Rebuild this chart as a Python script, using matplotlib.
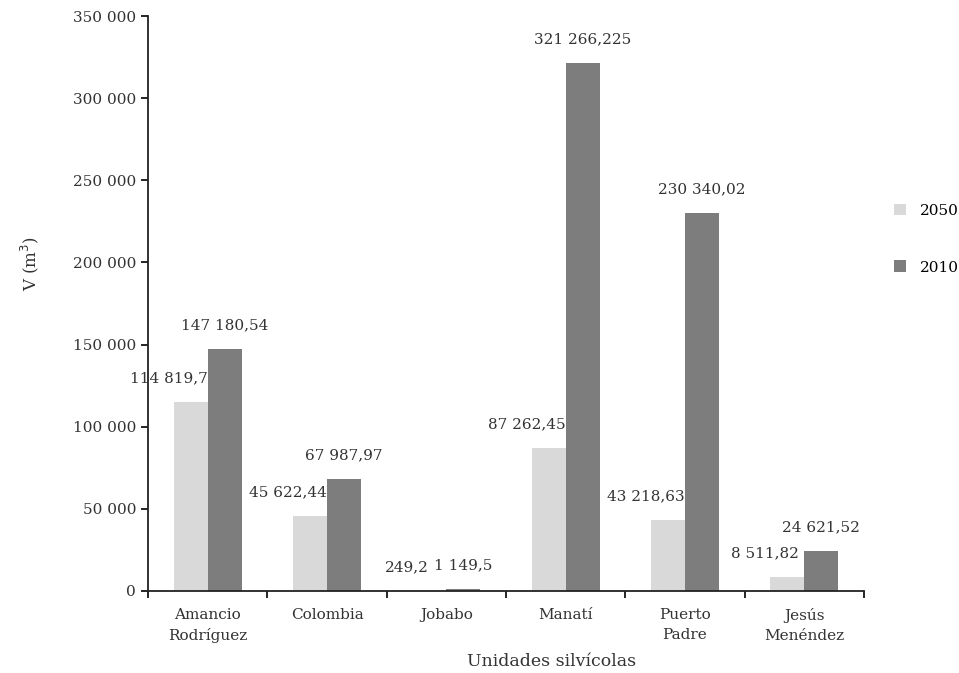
import matplotlib
matplotlib.use("Agg")
import matplotlib.pyplot as plt
import numpy as np
from matplotlib.ticker import FuncFormatter, FixedLocator

categories = ["Amancio\nRodríguez", "Colombia", "Jobabo", "Manatí", "Puerto\nPadre", "Jesús\nMenéndez"]
v2050 = [114819.7, 45622.44, 249.2, 87262.45, 43218.63, 8511.82]
v2010 = [147180.54, 67987.97, 1149.5, 321266.225, 230340.02, 24621.52]
lab2050 = ["114 819,7", "45 622,44", "249,2", "87 262,45", "43 218,63", "8 511,82"]
lab2010 = ["147 180,54", "67 987,97", "1 149,5", "321 266,225", "230 340,02", "24 621,52"]
series_names = ["2050", "2010"]

plt.rcParams['font.family'] = ['DejaVu Serif']
fig = plt.figure(figsize=(9.59, 6.73), dpi=100)
ax = fig.add_axes([148/959, 1-591/673, (864-148)/959, (591-16)/673])

n = len(categories)
x = np.arange(n) + 0.5
w = 0.285
c_light = "#d9d9d9"
c_dark = "#7d7d7d"
b1 = ax.bar(x - w/2, v2050, w, color=c_light, label=series_names[0])
b2 = ax.bar(x + w/2, v2010, w, color=c_dark, label=series_names[1])

for rect, t in zip(b1, lab2050):
    ax.annotate(t, (rect.get_x() + rect.get_width()/2, rect.get_height()),
                xytext=(-16, 12), textcoords="offset points", ha="center", va="bottom",
                fontsize=11, color="#333333")
for rect, t in zip(b2, lab2010):
    ax.annotate(t, (rect.get_x() + rect.get_width()/2, rect.get_height()),
                xytext=(0, 12), textcoords="offset points", ha="center", va="bottom",
                fontsize=11, color="#333333")

ax.set_xlim(0, n)
ax.set_ylim(0, 350000)
ax.yaxis.set_major_locator(FixedLocator(np.arange(0, 350001, 50000)))
ax.yaxis.set_major_formatter(FuncFormatter(lambda v, p: f"{int(v):,}".replace(",", " ")))
ax.set_xticks(np.arange(0, n + 1))
ax.set_xticklabels([])
ax.set_xticks(x, minor=True)
ax.set_xticklabels(categories, minor=True, fontsize=11, color="#333333", linespacing=1.55)
ax.tick_params(axis="x", which="minor", length=0, pad=12)
ax.tick_params(axis="x", which="major", length=5, direction="out", width=1.2)
ax.tick_params(axis="y", length=5, direction="out", width=1.2, labelsize=11, labelcolor="#333333")

for s in ["top", "right"]:
    ax.spines[s].set_visible(False)
for s in ["left", "bottom"]:
    ax.spines[s].set_linewidth(1.3)
    ax.spines[s].set_color("#222222")

ax.set_ylabel("V (m$^3$)", fontsize=12, color="#333333")
ax.yaxis.set_label_coords(-0.15, 0.57)
ax.set_xlabel("Unidades silvícolas", fontsize=12.5, color="#333333")
ax.xaxis.set_label_coords(0.563, -0.108)

leg = fig.legend(handles=[b1, b2], labels=series_names, loc="upper left",
                 bbox_to_anchor=(0.918, 0.718), frameon=False, fontsize=11,
                 handlelength=0.8, handleheight=0.8, labelspacing=2.8, handletextpad=0.9)

fig.savefig("out.png", dpi=100)
